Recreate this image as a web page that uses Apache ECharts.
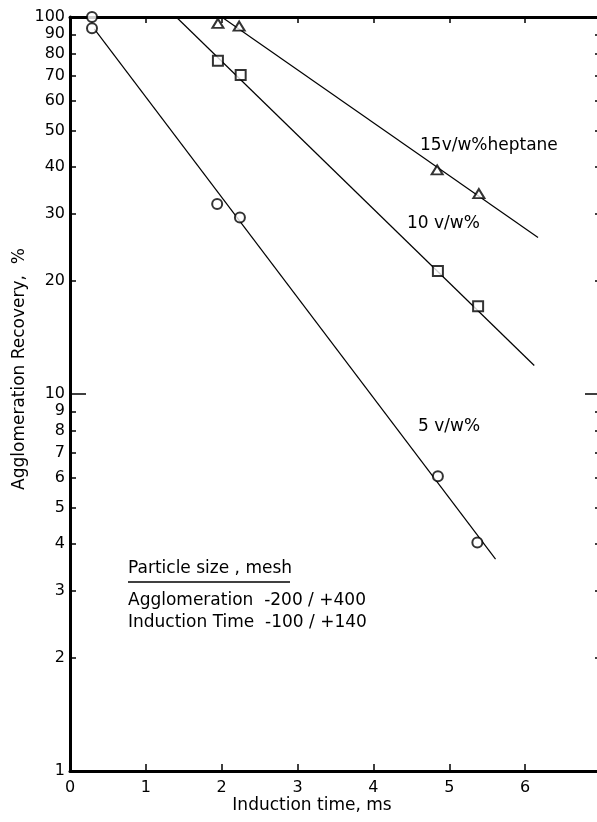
<!DOCTYPE html>
<html>
<head>
    <meta charset="utf-8">
    <title>Agglomeration recovery vs induction time</title>
    <script src="https://cdn.jsdelivr.net/npm/echarts@6/dist/echarts.min.js"></script>
    <style>
        body { margin: 0; background: #fff; }
        #main { width: 597px; height: 822px; }
    </style>
</head>
<body>
<div id="main"></div>
<script>
    // points (x: induction time ms, y: recovery %)
    var circleX = [0.29, 0.29, 1.94, 2.24, 4.85, 5.37];
    var circleY = [100, 93.3, 31.9, 29.4, 6.05, 4.04];
    var squareX = [1.95, 2.25, 4.85, 5.38];
    var squareY = [76.6, 70.2, 21.2, 17.1];
    var triX = [1.95, 2.23, 4.84, 5.39];
    var triY = [96.2, 94.6, 39.3, 34.0];

    // hand drawn fit lines, end points
    var fit5X = [0.32, 5.61];
    var fit5Y = [93, 3.65];
    var fit10X = [1.40, 6.12];
    var fit10Y = [100, 11.9];
    var fit15X = [2.0, 6.17];
    var fit15Y = [100, 26.0];

    var yTicks = [1, 2, 3, 4, 5, 6, 7, 8, 9, 10, 20, 30, 40, 50, 60, 70, 80, 90, 100];
    var xTicks = [0, 1, 2, 3, 4, 5, 6, 7];

    function pairs(xs, ys) {
        var out = [];
        for (var i = 0; i < xs.length; i++) out.push([xs[i], ys[i]]);
        return out;
    }

    var font = 'DejaVu Sans';
    var myChart = echarts.init(document.getElementById('main'));

    var logAxis = function (pos, opts) {
        return Object.assign({
            type: 'log', logBase: 10, min: 1, max: 100, position: pos,
            splitLine: { show: false },
            axisLine: { show: true, lineStyle: { color: '#000', width: 3 } },
            axisTick: { show: true, inside: true, length: 6, customValues: yTicks,
                lineStyle: { color: '#000', width: 1.5 } },
            axisLabel: { show: false }
        }, opts);
    };

    var option = {
        animation: false,
        backgroundColor: '#fff',
        grid: { left: 70, top: 17, width: 531, height: 754, outerBoundsMode: 'none', containLabel: false },
        xAxis: [
            {
                type: 'value', min: 0, max: 7, interval: 1, position: 'bottom',
                splitLine: { show: false },
                axisLine: { lineStyle: { color: '#000', width: 3 } },
                axisTick: { inside: true, length: 7, lineStyle: { color: '#000', width: 1.5 } },
                axisLabel: { color: '#000', fontSize: 16, fontFamily: font, margin: 9,
                    customValues: xTicks }
            },
            {
                type: 'value', min: 0, max: 7, interval: 1, position: 'top',
                splitLine: { show: false },
                axisLine: { lineStyle: { color: '#000', width: 3 } },
                axisTick: { inside: true, length: 6, lineStyle: { color: '#000', width: 1.5 } },
                axisLabel: { show: false }
            }
        ],
        yAxis: [
            logAxis('left', {
                axisLabel: { show: true, color: '#000', fontSize: 16, fontFamily: font,
                    margin: 5, customValues: yTicks }
            }),
            logAxis('left', {
                axisLine: { show: false },
                axisTick: { show: true, inside: true, length: 16, customValues: [10],
                    lineStyle: { color: '#000', width: 1.5 } }
            }),
            logAxis('right', {}),
            logAxis('right', {
                axisLine: { show: false },
                axisTick: { show: true, inside: true, length: 16, customValues: [10],
                    lineStyle: { color: '#000', width: 1.5 } }
            })
        ],
        series: [
            { name: 'fit 5', type: 'line', data: pairs(fit5X, fit5Y), showSymbol: false,
              lineStyle: { color: '#000', width: 1.2 }, z: 2 },
            { name: 'fit 10', type: 'line', data: pairs(fit10X, fit10Y), showSymbol: false,
              lineStyle: { color: '#000', width: 1.2 }, z: 2 },
            { name: 'fit 15', type: 'line', data: pairs(fit15X, fit15Y), showSymbol: false,
              lineStyle: { color: '#000', width: 1.2 }, z: 2 },
            { name: '5 v/w%', type: 'scatter', data: pairs(circleX, circleY), symbol: 'circle',
              symbolSize: 10, itemStyle: { color: '#fff', borderColor: '#000', borderWidth: 2 }, z: 5 },
            { name: '10 v/w%', type: 'scatter', data: pairs(squareX, squareY), symbol: 'rect',
              symbolSize: 10, itemStyle: { color: '#fff', borderColor: '#000', borderWidth: 2 }, z: 5 },
            { name: '15 v/w%', type: 'scatter', data: pairs(triX, triY), symbol: 'triangle',
              symbolSize: [11, 9], itemStyle: { color: '#fff', borderColor: '#000', borderWidth: 2 }, z: 5 }
        ],
        graphic: [
            { type: 'text', x: 20, y: 369, rotation: Math.PI / 2,
              style: { text: 'Agglomeration Recovery,  %', fontSize: 17, fontFamily: font,
                       fill: '#000', align: 'center', verticalAlign: 'middle' } },
            { type: 'text', x: 312, y: 806,
              style: { text: 'Induction time, ms', fontSize: 17, fontFamily: font,
                       fill: '#000', align: 'center', verticalAlign: 'middle' } },
            { type: 'text', x: 420, y: 146,
              style: { text: '15v/w%heptane', fontSize: 17, fontFamily: font,
                       fill: '#000', verticalAlign: 'middle' } },
            { type: 'text', x: 407, y: 224,
              style: { text: '10 v/w%', fontSize: 17, fontFamily: font,
                       fill: '#000', verticalAlign: 'middle' } },
            { type: 'text', x: 418, y: 427,
              style: { text: '5 v/w%', fontSize: 17, fontFamily: font,
                       fill: '#000', verticalAlign: 'middle' } },
            { type: 'text', x: 128, y: 569,
              style: { text: 'Particle size , mesh', fontSize: 17, fontFamily: font,
                       fill: '#000', verticalAlign: 'middle' } },
            { type: 'line', shape: { x1: 128, y1: 582, x2: 290, y2: 582 },
              style: { stroke: '#000', lineWidth: 1.5 } },
            { type: 'text', x: 128, y: 601,
              style: { text: 'Agglomeration  -200 / +400', fontSize: 17, fontFamily: font,
                       fill: '#000', verticalAlign: 'middle' } },
            { type: 'text', x: 128, y: 623,
              style: { text: 'Induction Time  -100 / +140', fontSize: 17, fontFamily: font,
                       fill: '#000', verticalAlign: 'middle' } }
        ]
    };
    myChart.setOption(option);
</script>
</body>
</html>
